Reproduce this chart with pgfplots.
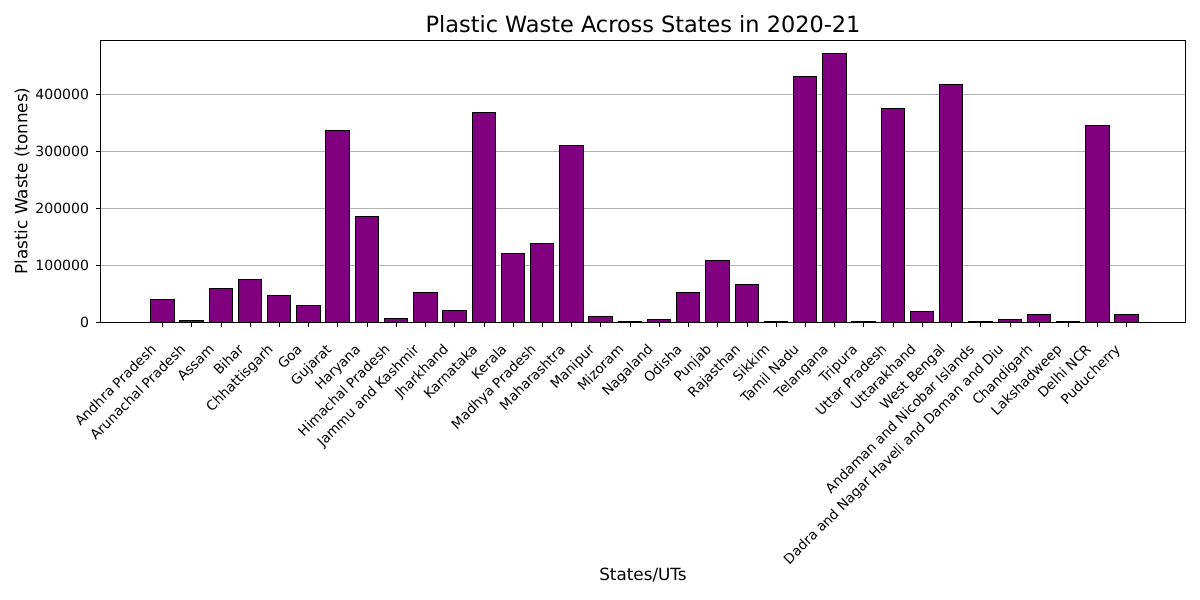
\documentclass[border=0pt]{standalone}
\usepackage{pgfplots}
\pgfplotsset{compat=1.18}
\usepackage{fontspec}
\setmainfont{DejaVu Sans}
\definecolor{barpurple}{RGB}{128,0,128}
\begin{document}
\begin{tikzpicture}
\path[use as bounding box] (0,0) rectangle (600pt,300pt);
\begin{axis}[
  at={(50.5pt,139pt)}, anchor=south west,
  scale only axis, width=542pt, height=141pt,
  xmin=-2.1, xmax=35, ymin=0, ymax=494700,
  xtick={0,...,33},
  xticklabels={Andhra Pradesh,Arunachal Pradesh,Assam,Bihar,Chhattisgarh,Goa,Gujarat,Haryana,Himachal Pradesh,Jammu and Kashmir,Jharkhand,Karnataka,Kerala,Madhya Pradesh,Maharashtra,Manipur,Mizoram,Nagaland,Odisha,Punjab,Rajasthan,Sikkim,Tamil Nadu,Telangana,Tripura,Uttar Pradesh,Uttarakhand,West Bengal,Andaman and Nicobar Islands,Dadra and Nagar Haveli and Daman and Diu,Chandigarh,Lakshadweep,Delhi NCR,Puducherry},
  xticklabel style={rotate=45, anchor=north east, font=\fontsize{6.8}{8}\selectfont, inner sep=1pt, xshift=-9pt},
  ytick={0,100000,200000,300000,400000},
  yticklabel style={font=\fontsize{7}{8}\selectfont},
  scaled y ticks=false,
  /pgf/number format/fixed, /pgf/number format/1000 sep={},
  /pgf/number format/assume math mode=true,
  ymajorgrids, major grid style={gray!60, line width=0.4pt},
  tick style={black}, tick align=outside, major tick length=2.5pt,
  xtick pos=bottom, ytick pos=left,
  axis line style={line width=0.5pt},
]
\addplot[ybar, bar width=0.8, fill=barpurple, draw=black, line width=0.5pt] coordinates {
(0,40000) (1,3000) (2,59000) (3,75000) (4,47000) (5,29000) (6,336000) (7,185000)
(8,7000) (9,52000) (10,20000) (11,368000) (12,120000) (13,138000) (14,310000)
(15,9000) (16,1500) (17,4000) (18,52000) (19,108000) (20,66000) (21,500)
(22,430000) (23,471000) (24,300) (25,375000) (26,19000) (27,417000) (28,1500)
(29,4000) (30,13000) (31,1000) (32,345000) (33,13000)};
\end{axis}
\node at (321.5pt,288pt) {\fontsize{11.2}{13}\selectfont Plastic Waste Across States in 2020-21};
\node[rotate=90] at (11pt,209.5pt) {\fontsize{8.4}{10}\selectfont Plastic Waste (tonnes)};
\node at (321.5pt,12.5pt) {\fontsize{8.4}{10}\selectfont States/UTs};
\end{tikzpicture}
\end{document}
